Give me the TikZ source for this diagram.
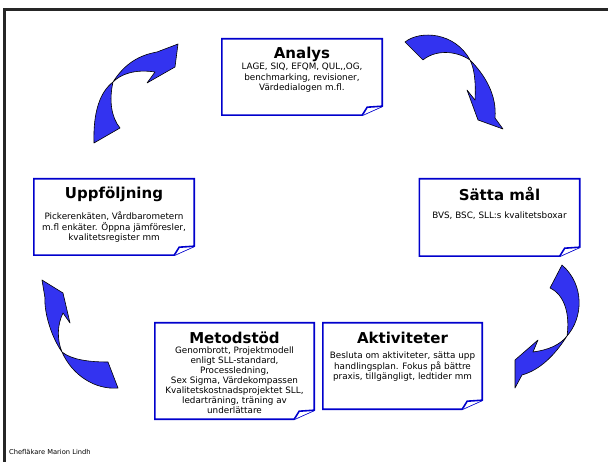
\documentclass[tikz,border=0pt]{standalone}
\usepackage{fontspec}
\setmainfont{DejaVu Sans}
\usetikzlibrary{positioning}
\definecolor{boxblue}{RGB}{0,0,204}
\definecolor{arrowblue}{RGB}{51,51,240}

\begin{document}
\begin{tikzpicture}[x=1pt, y=-1pt,
  notebox/.style={draw=boxblue, line width=1.6pt, line join=miter},
  frame/.style={minimum width=160pt, inner sep=0pt},
  title/.style={font=\fontsize{15}{18}\selectfont\bfseries, inner sep=0pt},
  body/.style={font=\fontsize{8.8}{10.5}\selectfont, align=center, inner sep=0pt},
  bent/.style={fill=arrowblue, draw=black, line width=0.6pt, line join=round}]
\useasboundingbox (0,0) rectangle (608,462);

% slide border
\draw[line width=3pt, black!85] (4,462) -- (4,10) -- (608,10);

% boxes
\node[frame, minimum height=76pt] (analys) at (302,77) {};
\node[frame, minimum height=76pt] (uppfoljning) at (114,217) {};
\node[frame, minimum height=77pt] (sattamal) at (499.5,217.5) {};
\node[frame, minimum height=96pt, minimum width=159pt] (metodstod) at (234.5,371) {};
\node[frame, minimum height=86pt, minimum width=159pt] (aktiviteter) at (402.5,366) {};

\foreach \b in {analys,uppfoljning,sattamal,metodstod,aktiviteter}{
  \draw[notebox] (\b.north west) -- (\b.north east) -- ([yshift=9pt]\b.south east)
    -- ([xshift=-20pt]\b.south east) -- (\b.south west) -- cycle;
  \draw[notebox, fill=white] ([xshift=-20pt]\b.south east) -- ([xshift=-15pt,yshift=8pt]\b.south east)
    -- ([yshift=9pt]\b.south east);
}

% titles
\node[title, below=8pt of analys.north] (analys-t) {Analys};
\node[title, below=8pt of uppfoljning.north] (uppfoljning-t) {Uppföljning};
\node[title, below=8pt of sattamal.north] (sattamal-t) {Sätta mål};
\node[title, below=9pt of metodstod.north] (metodstod-t) {Metodstöd};
\node[title, below=9.5pt of aktiviteter.north] (aktiviteter-t) {Aktiviteter};

% texts
\node[body, below=24pt of analys.north] (analys-b) {LAGE, SIQ, EFQM, QUL,{},OG,\\benchmarking, revisioner,\\Värdedialogen m.fl.};
\node[body, below=33pt of uppfoljning.north] (uppfoljning-b) {Pickerenkäten, Vårdbarometern\\m.fl enkäter. Öppna jämföresler,\\kvalitetsregister mm};
\node[body, below=33pt of sattamal.north] (sattamal-b) {BVS, BSC, SLL:s kvalitetsboxar};
\node[body, below=24pt of metodstod.north, font=\fontsize{8.8}{10}\selectfont] (metodstod-b) {Genombrott, Projektmodell\\enligt SLL-standard,\\Processledning,\\Sex Sigma, Värdekompassen\\Kvalitetskostnadsprojektet SLL,\\ledarträning, träning av\\underlättare};
\node[body, below=29pt of aktiviteter.north] (aktiviteter-b) {Besluta om aktiviteter, sätta upp\\handlingsplan. Fokus på bättre\\praxis, tillgängligt, ledtider mm};

\node[font=\fontsize{6.7}{8}\selectfont, inner sep=0pt, anchor=base west] (footer) at (9,454) {Chefläkare Marion Lindh};

% curved arrows
\draw[bent] (94,143) .. controls (93,112) and (100,92) .. (113,82)
  .. controls (125,63) and (140,55) .. (157,52) -- (178,44) -- (175,67) -- (147,83) -- (155,72)
  .. controls (135,69) and (121,74) .. (113,82)
  .. controls (109,100) and (111,117) .. (120,128) -- cycle;
\draw[bent] (405,42) .. controls (420,30) and (455,32) .. (470,60)
  .. controls (485,75) and (497,95) .. (495,118) -- (503,129) -- (478,120) -- (467,90) -- (475,100)
  .. controls (476,80) and (474,68) .. (470,60)
  .. controls (455,50) and (435,50) .. (423,60) -- cycle;
\draw[bent] (562,265) .. controls (585,285) and (583,318) .. (567,336)
  .. controls (555,355) and (540,370) .. (522,375) -- (515,388) -- (515,360) -- (538,340) -- (533,352)
  .. controls (548,350) and (560,345) .. (567,336)
  .. controls (570,315) and (565,295) .. (550,288) -- cycle;
\draw[bent] (118,388) .. controls (95,390) and (72,375) .. (62,352)
  .. controls (50,335) and (44,310) .. (45,298) -- (42,280) -- (63,293) -- (70,323) -- (63,313)
  .. controls (57,325) and (57,340) .. (62,352)
  .. controls (72,360) and (90,362) .. (108,362) -- cycle;
\end{tikzpicture}
\end{document}
